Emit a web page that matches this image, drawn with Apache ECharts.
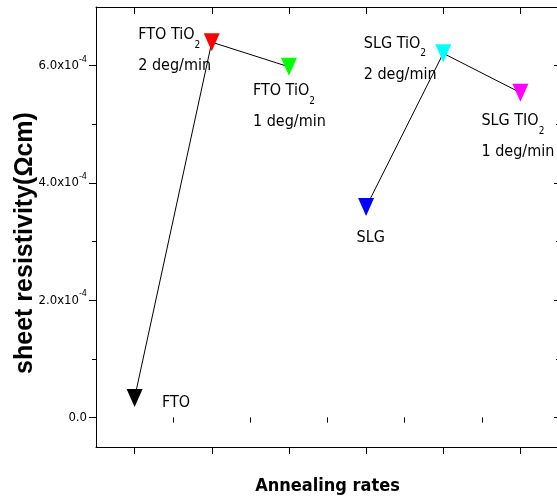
<!DOCTYPE html>
<html>
<head>
<meta charset="utf-8">
<script src="https://cdn.jsdelivr.net/npm/echarts@6/dist/echarts.min.js"></script>
<style>
  html, body { margin: 0; padding: 0; background: #fff; }
  #chart { width: 557px; height: 502px; }
</style>
</head>
<body>
<div id="chart"></div>
<script>
(function(){
    // samples, in the order they sit along the x axis
    let sampleNames = ['FTO', 'FTO TiO2 2 deg/min', 'FTO TiO2 1 deg/min', 'SLG', 'SLG TiO2 2 deg/min', 'SLG TIO2 1 deg/min'];
    let xPositions = [1, 2, 3, 4, 5, 6];
    let resistivity = [0.335e-4, 6.40e-4, 5.98e-4, 3.59e-4, 6.21e-4, 5.54e-4];
    // two connected groups (indices into the arrays above)
    let ftoGroup = [0, 1, 2];
    let slgGroup = [3, 4, 5];

    let yMajorTicks = [0, 2e-4, 4e-4, 6e-4];
    let yMinorTicks = [1e-4, 3e-4, 5e-4];
    let xMajorTicks = [1, 2, 3, 4, 5, 6];
    let xMinorTicks = [1.5, 2.5, 3.5, 4.5, 5.5];

    let pointLabels = [
        '{t|FTO}',
        '{t|FTO TiO}{s|2}\n{t|2 deg/min}',
        '{t|FTO TiO}{s|2}\n{t|1 deg/min}',
        '{t|SLG}',
        '{t|SLG TiO}{s|2}\n{t|2 deg/min}',
        '{t|SLG TIO}{s|2}\n{t|1 deg/min}'
    ];

    let NARROW = "'Liberation Sans Narrow', 'Arial Narrow', 'DejaVu Sans Condensed', sans-serif";
    let markerColors = ['#000000', '#ff0000', '#00ff00', '#0000ff', '#00ffff', '#ff00ff'];
    // label block top-left, relative to marker centre
    let labelOffsets = [[27.5, -11], [-73.5, -22.5], [-36, 9], [-9.5, 15], [-79.5, -25.5], [-39, 13]];
    let SYM_W = 16, SYM_H = 18;

    let groupData = function(idx){
        return idx.map((i) => [xPositions[i], resistivity[i]]);
    };

    let lineSeries = function(idx){
        return {
            type: 'line',
            data: groupData(idx),
            symbol: 'none',
            lineStyle: { color: '#000', width: 1 },
            z: 1,
            silent: true
        };
    };

    let scatterData = resistivity.map((v, i) => ({
        name: sampleNames[i],
        value: [xPositions[i], v],
        itemStyle: { color: markerColors[i], opacity: 1 },
        label: {
            show: true,
            position: [labelOffsets[i][0] + SYM_W / 2, labelOffsets[i][1] + SYM_H / 2],
            align: 'left',
            verticalAlign: 'top',
            formatter: pointLabels[i],
            rich: {
                t: { fontFamily: NARROW, fontSize: 16, lineHeight: 31, color: '#000' },
                s: { fontFamily: NARROW, fontSize: 10, color: '#000', verticalAlign: 'bottom' }
            }
        }
    }));

    let yLabel = function(v){
        if (Math.abs(v) < 1e-12) return '{a|0.0}';
        return '{a|' + (v / 1e-4).toFixed(1) + 'x10}{p|-4}';
    };

    let baseY = {
        type: 'value',
        min: -0.5e-4,
        max: 7e-4,
        splitLine: { show: false },
        axisLabel: { show: false },
        axisLine: { show: false }
    };
    let baseX = {
        type: 'value',
        min: 0.5,
        max: 6.5,
        splitLine: { show: false },
        axisLabel: { show: false },
        axisLine: { show: false }
    };
    let blackLine = { show: true, onZero: false, lineStyle: { color: '#000', width: 1 } };
    let tick = function(values, len, inside){
        return { show: true, customValues: values, length: len, inside: inside, lineStyle: { color: '#000', width: 1 } };
    };

    let option = {
        animation: false,
        backgroundColor: '#fff',
        grid: { left: 96, top: 7, right: -2, bottom: 55, containLabel: false, outerBoundsMode: 'none' },
        xAxis: [
            Object.assign({}, baseX, {
                position: 'bottom',
                axisLine: blackLine,
                axisTick: tick(xMajorTicks, 7, false),
                name: 'Annealing rates',
                nameLocation: 'middle',
                nameGap: 30,
                nameMoveOverlap: false,
                nameTextStyle: { fontFamily: NARROW, fontSize: 18, fontWeight: 'bold', color: '#000' }
            }),
            Object.assign({}, baseX, { position: 'bottom', axisTick: tick(xMinorTicks, 4, false) }),
            Object.assign({}, baseX, { position: 'top', axisLine: blackLine, axisTick: tick(xMajorTicks, 7, true) }),
            Object.assign({}, baseX, { position: 'top', axisTick: tick(xMinorTicks, 5, true) })
        ],
        yAxis: [
            Object.assign({}, baseY, {
                position: 'left',
                axisLine: blackLine,
                axisTick: tick(yMajorTicks, 7, false),
                axisLabel: {
                    show: true,
                    customValues: yMajorTicks,
                    margin: 9,
                    formatter: yLabel,
                    rich: {
                        a: { fontFamily: NARROW, fontSize: 13, lineHeight: 22, color: '#000' },
                        p: { fontFamily: NARROW, fontSize: 9, color: '#000', verticalAlign: 'top' }
                    }
                },
                name: 'sheet resistivity(Ωcm)',
                nameLocation: 'middle',
                nameRotate: 90,
                nameGap: 58,
                nameMoveOverlap: false,
                nameTextStyle: {
                    fontFamily: "'Liberation Sans', Arial, sans-serif",
                    fontSize: 25,
                    fontWeight: 'bold',
                    color: '#000',
                    padding: [0, 32, 0, 0]
                }
            }),
            Object.assign({}, baseY, { position: 'left', axisTick: tick(yMinorTicks, 4, false) }),
            Object.assign({}, baseY, { position: 'right', axisLine: blackLine, axisTick: tick(yMajorTicks, 5, true) }),
            Object.assign({}, baseY, { position: 'right', axisTick: tick(yMinorTicks, 3, true) })
        ],
        series: [
            lineSeries(ftoGroup),
            lineSeries(slgGroup),
            {
                type: 'scatter',
                data: scatterData,
                symbol: 'path://M0,0L10,0L5,10Z',
                symbolKeepAspect: false,
                symbolSize: [SYM_W, SYM_H],
                z: 3
            }
        ]
    };

    let chart = echarts.init(document.getElementById('chart'), null, { renderer: 'canvas' });
    chart.setOption(option);

    window.addEventListener('resize', function(){
        chart.resize();
    });
})();
</script>
</body>
</html>
